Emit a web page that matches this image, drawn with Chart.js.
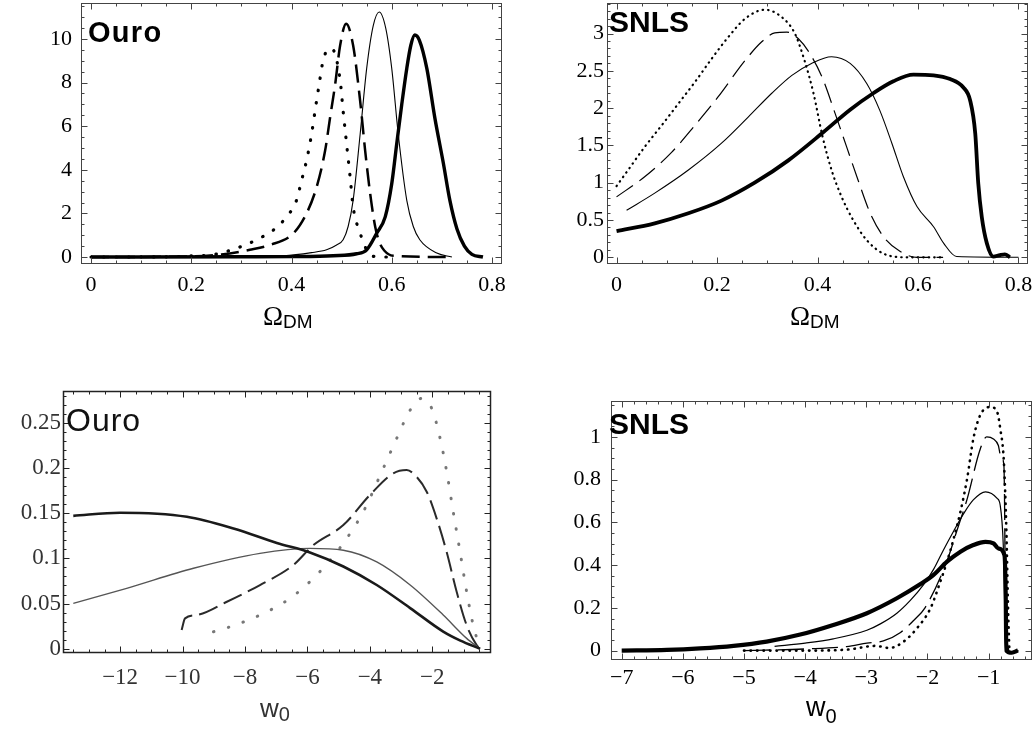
<!DOCTYPE html>
<html>
<head>
<meta charset="utf-8">
<script src="https://cdn.jsdelivr.net/npm/chart.js@4.4.1/dist/chart.umd.min.js"></script>
<style>
  html, body { margin: 0; padding: 0; background: #fff; }
  #page { position: relative; width: 1033px; height: 729px; overflow: hidden; background: #fff; }
  canvas { position: absolute; }
  .tag { position: absolute; font-family: "Liberation Sans", Arial, sans-serif; line-height: 1; white-space: nowrap; color: #000; }
  .axt { position: absolute; line-height: 1; white-space: nowrap; color: #000; }
  .serif { font-family: "Liberation Serif", "Times New Roman", serif; }
  .sans { font-family: "Liberation Sans", Arial, sans-serif; }
</style>
</head>
<body>
<div id="page">
  <canvas id="c1" width="520" height="360" style="left:0;top:0"></canvas>
  <canvas id="c2" width="513" height="360" style="left:520px;top:0"></canvas>
  <canvas id="c3" width="520" height="369" style="left:0;top:360px"></canvas>
  <canvas id="c4" width="513" height="369" style="left:520px;top:360px"></canvas>

  <div class="tag" style="left:88px;top:17.5px;font-size:29px;font-weight:bold;letter-spacing:1.3px">Ouro</div>
  <div class="tag" style="left:609px;top:6.5px;font-size:30px;font-weight:bold">SNLS</div>
  <div class="tag" style="left:66px;top:403.5px;font-size:32px;color:#111;letter-spacing:1px">Ouro</div>
  <div class="tag" style="left:609px;top:408.5px;font-size:30px;font-weight:bold">SNLS</div>

  <div class="axt serif" style="left:263px;top:302.5px;font-size:27px">Ω<span class="sans" style="font-size:19px;vertical-align:-3px">DM</span></div>
  <div class="axt serif" style="left:790px;top:302.5px;font-size:27px">Ω<span class="sans" style="font-size:19px;vertical-align:-3px">DM</span></div>
  <div class="axt sans" style="left:260px;top:695px;font-size:26px;color:#333">w<span style="font-size:20px;vertical-align:-4px">0</span></div>
  <div class="axt sans" style="left:806px;top:694px;font-size:27px">w<span style="font-size:20px;vertical-align:-7px">0</span></div>
</div>

<script>
// ---------- top left: Ouro, Omega_DM ----------
const P1_XTICKS = [0, 0.2, 0.4, 0.6, 0.8];
const P1_XLABELS = ["0", "0.2", "0.4", "0.6", "0.8"];
const P1_YTICKS = [0, 2, 4, 6, 8, 10];
const P1_YLABELS = ["0", "2", "4", "6", "8", "10"];

const P1_THICK_X = [0, 0.3, 0.4, 0.483, 0.53, 0.55, 0.57, 0.587, 0.6, 0.61, 0.62, 0.63, 0.638, 0.646, 0.655, 0.67, 0.686, 0.703, 0.716, 0.73, 0.745, 0.76, 0.782];
const P1_THICK_Y = [0, 0.01, 0.02, 0.06, 0.15, 0.33, 1.09, 1.84, 3.36, 5.2, 7.0, 8.65, 9.7, 10.18, 9.95, 8.65, 6.38, 4.3, 2.6, 1.3, 0.5, 0.12, 0];

const P1_THIN_X = [0, 0.2, 0.3, 0.384, 0.44, 0.47, 0.49, 0.503, 0.513, 0.523, 0.537, 0.55, 0.563, 0.575, 0.588, 0.6, 0.613, 0.63, 0.643, 0.656, 0.69, 0.72];
const P1_THIN_Y = [0, 0.01, 0.03, 0.06, 0.2, 0.33, 0.55, 0.79, 1.4, 2.6, 5.64, 8.65, 10.6, 11.24, 10.5, 8.65, 5.63, 2.6, 1.4, 0.79, 0.18, 0];

const P1_DASH_X = [0, 0.2, 0.26, 0.317, 0.357, 0.404, 0.43, 0.45, 0.467, 0.477, 0.487, 0.497, 0.509, 0.523, 0.537, 0.547, 0.557, 0.567, 0.575, 0.585, 0.603, 0.72];
const P1_DASH_Y = [0, 0.03, 0.12, 0.33, 0.55, 1.09, 2.0, 3.2, 4.87, 6.4, 7.9, 9.7, 10.7, 9.7, 7.15, 4.87, 2.9, 1.39, 0.7, 0.3, 0.06, 0];

const P1_DOT_X = [0, 0.15, 0.2, 0.246, 0.302, 0.33, 0.364, 0.39, 0.41, 0.42, 0.43, 0.44, 0.447, 0.454, 0.464, 0.48, 0.497, 0.503, 0.51, 0.517, 0.523, 0.537, 0.55, 0.563, 0.6];
const P1_DOT_Y = [0, 0.01, 0.05, 0.12, 0.5, 0.79, 1.24, 1.84, 2.6, 3.5, 4.42, 5.63, 6.7, 7.75, 9.1, 9.57, 8.12, 6.7, 5.17, 3.66, 2.3, 1.09, 0.33, 0.03, 0];

// ---------- top right: SNLS, Omega_DM ----------
const P2_XTICKS = [0, 0.2, 0.4, 0.6, 0.8];
const P2_XLABELS = ["0", "0.2", "0.4", "0.6", "0.8"];
const P2_YTICKS = [0, 0.5, 1, 1.5, 2, 2.5, 3];
const P2_YLABELS = ["0", "0.5", "1", "1.5", "2", "2.5", "3"];

const P2_THICK_X = [0, 0.076, 0.143, 0.209, 0.275, 0.342, 0.412, 0.465, 0.511, 0.551, 0.591, 0.631, 0.664, 0.69, 0.704, 0.714, 0.72, 0.727, 0.737, 0.75, 0.763, 0.773, 0.783];
const P2_THICK_Y = [0.35, 0.455, 0.59, 0.76, 1.0, 1.3, 1.68, 1.98, 2.2, 2.36, 2.45, 2.44, 2.39, 2.28, 2.1, 1.66, 0.99, 0.54, 0.19, 0.01, 0.03, 0.04, 0];

const P2_THIN_X = [0.02, 0.076, 0.143, 0.209, 0.262, 0.309, 0.349, 0.388, 0.428, 0.465, 0.498, 0.524, 0.548, 0.571, 0.598, 0.631, 0.651, 0.677, 0.8];
const P2_THIN_Y = [0.63, 0.86, 1.17, 1.53, 1.88, 2.2, 2.44, 2.6, 2.69, 2.6, 2.33, 1.97, 1.53, 1.08, 0.68, 0.41, 0.19, 0.01, 0];

const P2_DASH_X = [0, 0.056, 0.11, 0.156, 0.202, 0.256, 0.289, 0.315, 0.339, 0.362, 0.385, 0.41, 0.435, 0.458, 0.481, 0.505, 0.531, 0.564, 0.598, 0.65];
const P2_DASH_Y = [0.81, 1.08, 1.41, 1.77, 2.15, 2.64, 2.89, 3.01, 3.02, 2.93, 2.73, 2.4, 1.93, 1.48, 1.03, 0.59, 0.28, 0.08, 0, 0];

const P2_DOT_X = [0, 0.023, 0.056, 0.09, 0.123, 0.156, 0.189, 0.222, 0.256, 0.295, 0.329, 0.355, 0.375, 0.392, 0.41, 0.428, 0.448, 0.471, 0.498, 0.531, 0.578, 0.65];
const P2_DOT_Y = [0.955, 1.17, 1.48, 1.77, 2.06, 2.35, 2.66, 2.95, 3.2, 3.32, 3.22, 3.0, 2.62, 2.2, 1.62, 1.17, 0.81, 0.5, 0.23, 0.05, 0, 0];

// ---------- bottom left: Ouro, w0 ----------
const P3_XTICKS = [-12, -10, -8, -6, -4, -2];
const P3_XLABELS = ["\u221212", "\u221210", "\u22128", "\u22126", "\u22124", "\u22122"];
const P3_YTICKS = [0, 0.05, 0.1, 0.15, 0.2, 0.25];
const P3_YLABELS = ["0", "0.05", "0.1", "0.15", "0.2", "0.25"];

const P3_THICK_X = [-13.5, -12, -9.86, -8.37, -6.98, -5.92, -4.85, -3.78, -2.71, -1.65, -1.1, -0.47];
const P3_THICK_Y = [0.147, 0.1505, 0.146, 0.133, 0.117, 0.1065, 0.091, 0.0705, 0.045, 0.019, 0.009, 0];

const P3_THIN_X = [-13.5, -11.79, -9.65, -7.52, -5.92, -4.85, -3.78, -2.71, -1.65, -0.9, -0.47];
const P3_THIN_Y = [0.0502, 0.0668, 0.089, 0.1055, 0.111, 0.109, 0.096, 0.0705, 0.0373, 0.0115, 0];

const P3_DASH_X = [-10.03, -9.92, -9.54, -8.58, -7.52, -6.45, -5.81, -4.85, -4.0, -3.25, -2.82, -2.5, -2.18, -1.86, -1.54, -1.22, -0.9, -0.58, -0.47];
const P3_DASH_Y = [0.0207, 0.0336, 0.0373, 0.052, 0.0705, 0.0926, 0.1147, 0.1368, 0.17, 0.194, 0.1977, 0.19, 0.1737, 0.144, 0.107, 0.063, 0.026, 0.004, 0];

const P3_DOT_X = [-9.01, -8.48, -7.52, -6.56, -5.81, -5.06, -4.53, -4.21, -3.57, -3.14, -2.71, -2.34, -2.02, -1.75, -1.54, -1.33, -1.11, -0.9, -0.69, -0.47];
const P3_DOT_Y = [0.0188, 0.0243, 0.0373, 0.0557, 0.0779, 0.107, 0.133, 0.1515, 0.1996, 0.2327, 0.264, 0.277, 0.266, 0.2327, 0.196, 0.1515, 0.107, 0.063, 0.026, 0];

// ---------- bottom right: SNLS, w0 ----------
const P4_XTICKS = [-7, -6, -5, -4, -3, -2, -1];
const P4_XLABELS = ["\u22127", "\u22126", "\u22125", "\u22124", "\u22123", "\u22122", "\u22121"];
const P4_YTICKS = [0, 0.2, 0.4, 0.6, 0.8, 1];
const P4_YLABELS = ["0", "0.2", "0.4", "0.6", "0.8", "1"];

const P4_THICK_X = [-7, -6.26, -5.72, -5.17, -4.63, -4.08, -3.54, -2.99, -2.5, -2.12, -1.9, -1.68, -1.46, -1.25, -1.05, -0.92, -0.84, -0.74, -0.72, -0.71, -0.62, -0.52];
const P4_THICK_Y = [0, 0.003, 0.01, 0.022, 0.042, 0.075, 0.12, 0.175, 0.245, 0.31, 0.354, 0.416, 0.463, 0.494, 0.509, 0.502, 0.478, 0.447, 0.26, 0, -0.01, 0];

const P4_THIN_X = [-4.5, -4, -3.54, -2.99, -2.77, -2.5, -2.28, -2.06, -1.9, -1.74, -1.57, -1.41, -1.25, -1.05, -0.86, -0.81, -0.76, -0.74, -0.72, -0.64, -0.51];
const P4_THIN_Y = [0.02, 0.035, 0.055, 0.095, 0.125, 0.175, 0.235, 0.31, 0.38, 0.47, 0.56, 0.64, 0.705, 0.743, 0.712, 0.68, 0.494, 0.26, 0, -0.012, 0];

const P4_DASH_X = [-5, -3.97, -3.32, -2.99, -2.72, -2.44, -2.23, -2.04, -1.68, -1.52, -1.35, -1.14, -1.03, -0.92, -0.84, -0.81, -0.75, -0.74, -0.73, -0.71, -0.67];
const P4_DASH_Y = [0, 0.008, 0.019, 0.035, 0.045, 0.085, 0.14, 0.2, 0.42, 0.56, 0.71, 0.94, 1.0, 0.99, 0.96, 0.92, 0.868, 0.728, 0.416, 0.105, 0];

const P4_DOT_X = [-5, -4, -3.3, -2.85, -2.62, -2.39, -2.17, -1.95, -1.79, -1.68, -1.57, -1.46, -1.35, -1.25, -1.14, -0.97, -0.86, -0.81, -0.75, -0.71, -0.68, -0.66];
const P4_DOT_Y = [0, 0, 0.005, 0.022, 0.012, 0.042, 0.105, 0.198, 0.322, 0.416, 0.525, 0.65, 0.806, 0.99, 1.1, 1.14, 1.117, 1.04, 0.883, 0.572, 0.182, 0];

// ---------- drawing ----------
const SERIF = "'Liberation Serif', 'Times New Roman', serif";

// Mathematica-style frame: box on all four sides, ticks pointing inward
const frameTicks = {
  id: "frameTicks",
  afterDatasetsDraw(chart, args, o) {
    const { ctx, chartArea: a, scales } = chart;
    const L = Math.round(a.left) + 0.5, R = Math.round(a.right) - 0.5;
    const T = Math.round(a.top) + 0.5, B = Math.round(a.bottom) - 0.5;
    ctx.save();
    ctx.strokeStyle = o.color;
    ctx.lineWidth = o.width;
    ctx.strokeRect(L, T, R - L, B - T);
    ctx.lineWidth = 1;
    ctx.beginPath();
    for (const key of ["x", "y"]) {
      const s = scales[key];
      const step = o[key + "Minor"];
      const majors = s.ticks.map((t) => t.value);
      for (let k = Math.ceil(s.min / step); k * step <= s.max + 1e-9; k++) {
        const v = k * step;
        const major = majors.some((m) => Math.abs(m - v) < step / 10);
        const len = major ? 6 : 3;
        const p = Math.round(s.getPixelForValue(v)) + 0.5;
        if (key === "x") {
          ctx.moveTo(p, B); ctx.lineTo(p, B - len);
          ctx.moveTo(p, T); ctx.lineTo(p, T + len);
        } else {
          ctx.moveTo(L, p); ctx.lineTo(L + len, p);
          ctx.moveTo(R, p); ctx.lineTo(R - len, p);
        }
      }
    }
    ctx.stroke();
    ctx.restore();
  },
};

function pts(xs, ys) {
  return xs.map((x, i) => ({ x, y: ys[i] }));
}

function line(xs, ys, style) {
  return Object.assign(
    {
      data: pts(xs, ys),
      borderColor: "#000",
      pointRadius: 0,
      fill: false,
      cubicInterpolationMode: "monotone",
      borderJoinStyle: "round",
    },
    style
  );
}

function axis(a, which) {
  return {
    type: "linear",
    min: a.min,
    max: a.max,
    grid: { display: false, drawTicks: false },
    border: { display: false },
    ticks: {
      autoSkip: false,
      maxRotation: 0,
      padding: a.pad,
      color: a.color || "#000",
      font: { family: SERIF, size: a.fontSize || 22 },
      callback: (v, i) => a.labels[i],
    },
    afterBuildTicks: (s) => {
      s.ticks = a.ticks.map((v) => ({ value: v }));
    },
    afterFit: (s) => {
      if (which === "x") s.height = a.size;
      else s.width = a.size;
      // keep the plot frame where it is, labels may hang over the edges
      s.paddingTop = s.paddingBottom = s.paddingLeft = s.paddingRight = 0;
    },
  };
}

function makePanel(id, cfg) {
  return new Chart(document.getElementById(id), {
    type: "line",
    data: { datasets: cfg.datasets },
    options: {
      responsive: false,
      animation: false,
      events: [],
      layout: { padding: { top: cfg.padTop, right: cfg.padRight, left: 0, bottom: 0 } },
      plugins: {
        legend: { display: false },
        tooltip: { enabled: false },
        frameTicks: cfg.frame,
      },
      scales: { x: axis(cfg.x, "x"), y: axis(cfg.y, "y") },
    },
    plugins: [frameTicks],
  });
}

makePanel("c1", {
  padTop: 3,
  padRight: 18,
  frame: { color: "#444", width: 1, xMinor: 0.05, yMinor: 0.5 },
  x: { min: -0.02, max: 0.82, ticks: P1_XTICKS, labels: P1_XLABELS, size: 96, pad: 8 },
  y: { min: -0.32, max: 11.65, ticks: P1_YTICKS, labels: P1_YLABELS, size: 81, pad: 9 },
  datasets: [
    line(P1_THICK_X, P1_THICK_Y, { borderWidth: 3.4 }),
    line(P1_THIN_X, P1_THIN_Y, { borderWidth: 1.1 }),
    line(P1_DASH_X, P1_DASH_Y, { borderWidth: 2.5, borderDash: [18, 8] }),
    line(P1_DOT_X, P1_DOT_Y, { borderWidth: 3.2, borderDash: [0.5, 12], borderCapStyle: "round" }),
  ],
});

makePanel("c2", {
  padTop: 3,
  padRight: 5,
  frame: { color: "#444", width: 1, xMinor: 0.05, yMinor: 0.1 },
  x: { min: -0.019, max: 0.819, ticks: P2_XTICKS, labels: P2_XLABELS, size: 96, pad: 8 },
  y: { min: -0.09, max: 3.41, ticks: P2_YTICKS, labels: P2_YLABELS, size: 87, pad: 3 },
  datasets: [
    line(P2_THICK_X, P2_THICK_Y, { borderWidth: 3.8 }),
    line(P2_THIN_X, P2_THIN_Y, { borderWidth: 1.1 }),
    line(P2_DASH_X, P2_DASH_Y, { borderWidth: 1.2, borderDash: [20, 8] }),
    line(P2_DOT_X, P2_DOT_Y, { borderWidth: 2.2, borderDash: [0.5, 5], borderCapStyle: "round" }),
  ],
});

makePanel("c3", {
  padTop: 31,
  padRight: 29,
  frame: { color: "#222", width: 1.5, xMinor: 0.5, yMinor: 0.01 },
  x: { min: -13.83, max: -0.12, ticks: P3_XTICKS, labels: P3_XLABELS, size: 76, pad: 11, color: "#333", fontSize: 23 },
  y: { min: -0.0047, max: 0.2851, ticks: P3_YTICKS, labels: P3_YLABELS, size: 63, pad: 2, color: "#333", fontSize: 23 },
  datasets: [
    line(P3_THICK_X, P3_THICK_Y, { borderWidth: 2.6, borderColor: "#1a1a1a" }),
    line(P3_THIN_X, P3_THIN_Y, { borderWidth: 1.4, borderColor: "#555" }),
    line(P3_DASH_X, P3_DASH_Y, { borderWidth: 2, borderColor: "#2a2a2a", borderDash: [20, 7] }),
    line(P3_DOT_X, P3_DOT_Y, { borderWidth: 3, borderColor: "#777", borderDash: [0.5, 15], borderCapStyle: "round" }),
  ],
});

makePanel("c4", {
  padTop: 41,
  padRight: 1,
  frame: { color: "#444", width: 1, xMinor: 0.2, yMinor: 0.05 },
  x: { min: -7.175, max: -0.29, ticks: P4_XTICKS, labels: P4_XLABELS, size: 69, pad: 5 },
  y: { min: -0.044, max: 1.168, ticks: P4_YTICKS, labels: P4_YLABELS, size: 91, pad: 10 },
  datasets: [
    line(P4_THICK_X, P4_THICK_Y, { borderWidth: 4.2 }),
    line(P4_THIN_X, P4_THIN_Y, { borderWidth: 1.2 }),
    line(P4_DASH_X, P4_DASH_Y, { borderWidth: 1.3, borderDash: [26, 8] }),
    line(P4_DOT_X, P4_DOT_Y, { borderWidth: 2.6, borderDash: [0.5, 6], borderCapStyle: "round" }),
  ],
});
</script>
</body>
</html>
